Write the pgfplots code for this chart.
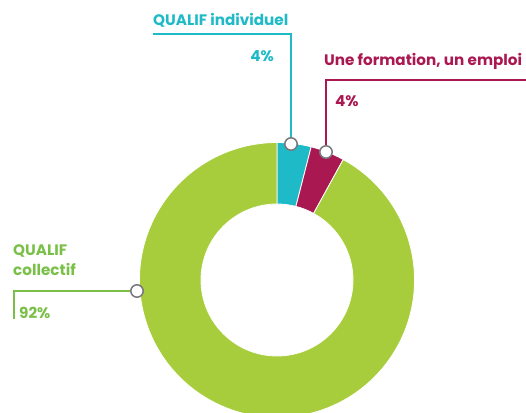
\documentclass[border=0pt]{standalone}
\usepackage{pgfplots}
\pgfplotsset{compat=1.18}
\usepackage{fontspec}
\setmainfont{Poppins}
\definecolor{dgreen}{RGB}{168,205,60}
\definecolor{tgreen}{RGB}{122,192,72}
\definecolor{dcyan}{RGB}{30,186,200}
\definecolor{dmag}{RGB}{170,24,82}
\definecolor{mkgray}{RGB}{120,120,125}
% shares (percent): QUALIF individuel, Une formation un emploi, QUALIF collectif
\def\va{4}\def\vb{4}\def\vc{92}
\def\cx{277}\def\cy{280}\def\Ro{137.5}\def\Ri{76}
\newcommand{\slice}[3]{% start%, end%, colour
  \fill[#3,draw=white,line width=0.8pt]
    ([shift={({90-3.6*(#1)}:\Ro pt)}]axis cs:\cx,\cy)
    arc[start angle={90-3.6*(#1)}, end angle={90-3.6*(#2)}, radius=\Ro pt]
    -- ([shift={({90-3.6*(#2)}:\Ri pt)}]axis cs:\cx,\cy)
    arc[start angle={90-3.6*(#2)}, end angle={90-3.6*(#1)}, radius=\Ri pt]
    -- cycle;}
\newcommand{\lbl}{\fontsize{15.2}{17}\selectfont\bfseries}
\begin{document}
\begin{tikzpicture}
\begin{axis}[name=ax,
  width=526pt, height=412pt, scale only axis,
  xmin=0, xmax=526, ymin=0, ymax=412, y dir=reverse,
  axis lines=none, clip=true]
\slice{0}{\va}{dcyan}
\slice{\va}{\va+\vb}{dmag}
\slice{\va+\vb}{100}{dgreen}
% leader lines
\addplot[dcyan, line width=2.4pt] coordinates {(291,144) (291,34) (153,34)};
\addplot[dmag, line width=2.4pt] coordinates {(326,152) (326,80) (526,80)};
\addplot[tgreen, line width=2.4pt] coordinates {(137,291) (14,291) (14,319)};
\addplot[only marks, mark=*, mark size=6.2pt, mark options={fill=white, draw=mkgray, line width=1.5pt}]
  coordinates {(291,144) (326,152) (137,291)};
% labels
\node[anchor=west, text=dcyan, inner sep=0pt, font=\lbl] at (axis cs:153,20) {QUALIF individuel};
\node[anchor=east, text=dcyan, inner sep=0pt, font=\lbl] at (axis cs:274,56) {4\%};
\node[anchor=west, text=dmag, inner sep=0pt, font=\lbl] at (axis cs:324,61) {Une formation, un emploi};
\node[anchor=west, text=dmag, inner sep=0pt, font=\lbl] at (axis cs:335,101) {4\%};
\node[anchor=north west, text=tgreen, inner sep=0pt, align=left, font=\fontsize{15.2}{20}\selectfont\bfseries] at (axis cs:13,244) {QUALIF\\collectif};
\node[anchor=west, text=tgreen, inner sep=0pt, font=\lbl] at (axis cs:19,313) {92\%};
\end{axis}
\pgfresetboundingbox
\useasboundingbox (ax.south west) rectangle (ax.north east);
\end{tikzpicture}
\end{document}
